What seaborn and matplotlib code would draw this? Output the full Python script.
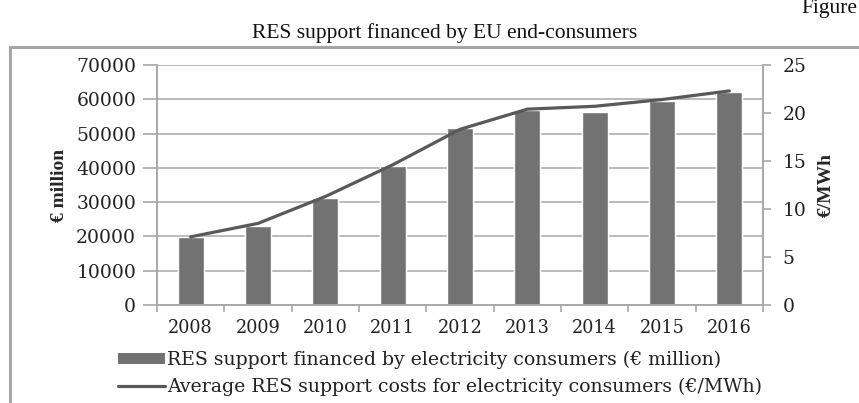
import matplotlib
matplotlib.use("Agg")
import matplotlib.pyplot as plt
from matplotlib.patches import Rectangle, Patch
from matplotlib.lines import Line2D
import seaborn as sns
import pandas as pd
import numpy as np

years = ["2008", "2009", "2010", "2011", "2012", "2013", "2014", "2015", "2016"]
support_meur = [19800, 23000, 31100, 40500, 51700, 56900, 56400, 59500, 62000]
cost_eur_mwh = [7.1, 8.5, 11.3, 14.6, 18.3, 20.4, 20.7, 21.4, 22.3]
left_ticks = [0, 10000, 20000, 30000, 40000, 50000, 60000, 70000]
right_ticks = [0, 5, 10, 15, 20, 25]

title = "RES support financed by EU end-consumers"
bar_label = "RES support financed by electricity consumers (\u20ac million)"
line_label = "Average RES support costs for electricity consumers (\u20ac/MWh)"

df = pd.DataFrame({"year": years, "support": support_meur, "cost": cost_eur_mwh})

sns.set_theme(style="white")
plt.rcParams["font.family"] = ["Liberation Serif", "DejaVu Serif"]

bar_color = "#727272"
line_color = "#595959"
grid_color = "#b4b4b4"
spine_color = "#a8a8a8"
text_color = "#222222"
wide_serif = ["DejaVu Serif"]

fig = plt.figure(figsize=(8.59, 4.03), dpi=100)
ax = fig.add_axes([157 / 859, 1 - 305 / 403, (763 - 157) / 859, (305 - 65) / 403])

sns.barplot(data=df, x="year", y="support", color=bar_color, width=0.39,
            saturation=1, ax=ax, zorder=2)
ax.set_ylim(0, 70000)
ax.set_yticks(left_ticks)
ax.set_yticklabels([str(v) for v in left_ticks], fontsize=13.5,
                   family=wide_serif, color=text_color)
ax.yaxis.grid(True, color=grid_color, linewidth=1.3)
ax.set_axisbelow(True)
ax.set_xlim(-0.5, len(years) - 0.5)
ax.set_xlabel("")
ax.set_ylabel("\u20ac million", fontsize=14, fontweight="bold", labelpad=6)

ax2 = ax.twinx()
sns.pointplot(data=df, x="year", y="cost", color=line_color, markers="",
              linewidth=2.3, ax=ax2)
ax2.set_ylim(0, 25)
ax2.set_yticks(right_ticks)
ax2.set_yticklabels([str(v) for v in right_ticks], fontsize=13.5,
                    family=wide_serif, color=text_color)
ax2.set_ylabel("\u20ac/MWh", fontsize=14, fontweight="bold", labelpad=8)
ax2.set_xlim(-0.5, len(years) - 0.5)
ax2.set_xlabel("")

for a in (ax, ax2):
    a.spines["top"].set_visible(False)
    for side in ("left", "right", "bottom"):
        a.spines[side].set_color(spine_color)
        a.spines[side].set_linewidth(1.2)

ax.tick_params(axis="y", which="major", left=True, length=10, width=1.2,
               color=spine_color, pad=5)
ax2.tick_params(axis="y", which="major", right=True, length=6, width=1.2,
                color=spine_color, pad=8)

# category labels centred, tick marks between categories
ax.set_xticks(range(len(years)))
ax.set_xticklabels(years, fontsize=12.7, family=wide_serif, color=text_color)
ax.set_xticks(np.arange(len(years) + 1) - 0.5, minor=True)
ax.tick_params(axis="x", which="major", length=0, pad=10)
ax.tick_params(axis="x", which="minor", bottom=True, length=5, width=1.2,
               color=spine_color)
ax2.tick_params(axis="x", which="both", bottom=False, top=False,
                labelbottom=False)

fig.text(445 / 859, 1 - 33 / 403, title, ha="center", va="center",
         fontsize=15.5, color="#111111")
fig.text(857 / 859, 1 - 9 / 403, "Figure", ha="right", va="center",
         fontsize=15.5, color="#111111")

# outer chart frame
fig.add_artist(Rectangle((10 / 859, -0.1), 1.2, 0.1 + 1 - 47 / 403,
                         transform=fig.transFigure, fill=False,
                         edgecolor="#a6a6a6", linewidth=2.2))

handles = [Patch(facecolor=bar_color, edgecolor="none"),
           Line2D([0], [0], color=line_color, linewidth=2.3)]
fig.legend(handles, [bar_label, line_label], loc="upper left",
           bbox_to_anchor=(118 / 859, 1 - 351 / 403), frameon=False,
           borderpad=0, borderaxespad=0,
           prop={"family": wide_serif, "size": 13.6},
           handlelength=2.5, handleheight=0.5,
           handletextpad=0.1, labelspacing=0.45, labelcolor=text_color)

fig.savefig("out.png", dpi=100)
